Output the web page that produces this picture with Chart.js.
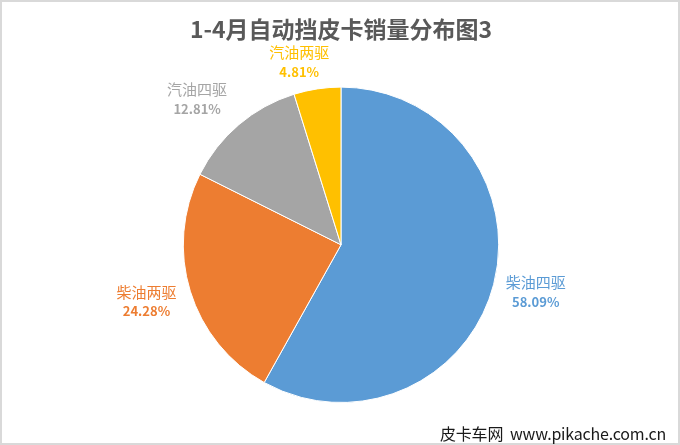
<!DOCTYPE html>
<html>
<head>
<meta charset="utf-8">
<script src="https://cdn.jsdelivr.net/npm/chart.js@4/dist/chart.umd.min.js"></script>
<style>
  body { margin: 0; background: #fff; }
  #wrap { position: relative; width: 680px; height: 445px; }
  #frame { position: absolute; left: 0; top: 0; width: 680px; height: 445px; box-sizing: border-box;
           border: 2px solid #d9d9d9; pointer-events: none; }
  #mark { position: absolute; left: 440px; top: 421px; font-family: "Noto Sans CJK SC", sans-serif;
          font-size: 16px; color: #1a1a1a; white-space: nowrap; line-height: 24px; letter-spacing: -0.2px; }
</style>
</head>
<body>
<div id="wrap">
  <canvas id="chart" width="680" height="445"></canvas>
  <div id="frame"></div>
  <div id="mark">皮卡车网&nbsp;&nbsp;www.pikache.com.cn</div>
</div>
<script>
const categories = ['柴油四驱', '柴油两驱', '汽油四驱', '汽油两驱'];
const shares = [58.09, 24.28, 12.81, 4.81];
const sliceColors = ['#5B9BD5', '#ED7D31', '#A5A5A5', '#FFC000'];

// draws the outside labels (name + percent) for every slice
const outsideLabels = {
    id: 'outsideLabels',
    afterDatasetsDraw(chart, args, opts) {
        const ctx = chart.ctx;
        const meta = chart.getDatasetMeta(0);
        ctx.save();
        ctx.textAlign = 'center';
        ctx.textBaseline = 'middle';
        meta.data.forEach((arc, i) => {
            const mid = (arc.startAngle + arc.endAngle) / 2 + opts.nudge[i] * Math.PI / 180;
            const d = arc.outerRadius * opts.dist[i];
            const x = arc.x + Math.cos(mid) * d;
            const y = arc.y + Math.sin(mid) * d;
            ctx.fillStyle = sliceColors[i];
            ctx.font = '15px "Noto Sans CJK SC", sans-serif';
            ctx.fillText(categories[i], x, y - 9.5);
            ctx.font = 'bold 13px "Noto Sans CJK SC", sans-serif';
            ctx.fillText(shares[i].toFixed(2) + '%', x, y + 10);
        });
        ctx.restore();
    }
};

new Chart(document.getElementById('chart'), {
    type: 'pie',
    data: {
        labels: categories,
        datasets: [{
            data: shares,
            backgroundColor: sliceColors,
            borderColor: '#ffffff',
            borderWidth: 1,
            hoverOffset: 0
        }]
    },
    options: {
        responsive: false,
        animation: false,
        layout: { padding: { left: 100, right: 98, top: 0, bottom: 42 } },
        plugins: {
            legend: { display: false },
            tooltip: { enabled: false },
            title: {
                display: true,
                text: '1-4月自动挡皮卡销量分布图3',
                color: '#595959',
                font: { size: 23, weight: 'bold', family: '"Noto Sans CJK SC", sans-serif' },
                padding: { top: 15, bottom: 44 }
            },
            outsideLabels: { dist: [1.27, 1.285, 1.30, 1.19], nudge: [-1.0, 0.9, -4.2, -4.2] }
        }
    },
    plugins: [outsideLabels]
});
</script>
</body>
</html>
